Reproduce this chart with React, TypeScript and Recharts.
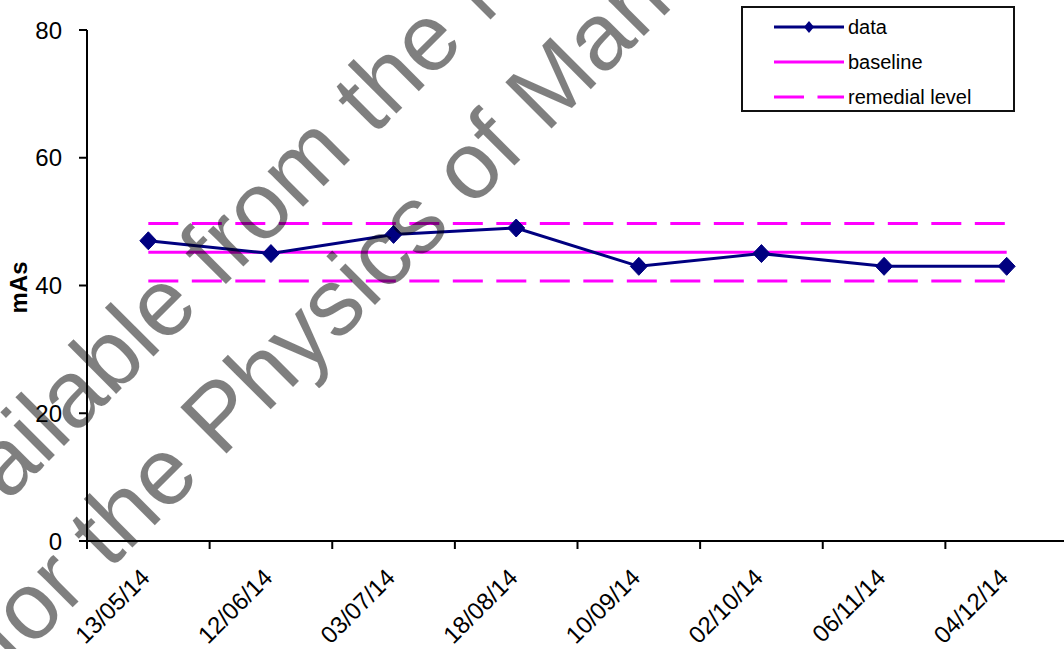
import React from 'react';
import { LineChart, Line, XAxis, YAxis } from 'recharts';

// Measurement dates (category axis)
const dates = ['13/05/14', '12/06/14', '03/07/14', '18/08/14', '10/09/14', '02/10/14', '06/11/14', '04/12/14'];
// Measured tube loading
const mAsValues = [47, 45, 48, 49, 43, 45, 43, 43];
// Baseline and ±10 % remedial levels
const baselineValues = [45.2, 45.2, 45.2, 45.2, 45.2, 45.2, 45.2, 45.2];
const remedialUpper = [49.7, 49.7, 49.7, 49.7, 49.7, 49.7, 49.7, 49.7];
const remedialLower = [40.7, 40.7, 40.7, 40.7, 40.7, 40.7, 40.7, 40.7];
const yTicks = [0, 20, 40, 60, 80];

const rows = dates.map((d, i) => ({
  date: d,
  data: mAsValues[i],
  baseline: baselineValues[i],
  remUp: remedialUpper[i],
  remLow: remedialLower[i],
}));

const FONT = '"Liberation Sans", Arial, Helvetica, sans-serif';
const NAVY = '#000080';
const MAGENTA = '#FF00FF';
const DASH = '30 13.5';

const Diamond = (props: any) => {
  const { cx, cy } = props;
  if (cx == null || cy == null) return null;
  return (
    <polygon
      points={`${cx},${cy - 9} ${cx + 8.5},${cy} ${cx},${cy + 9} ${cx - 8.5},${cy}`}
      fill={NAVY}
      stroke={NAVY}
      strokeWidth={1}
    />
  );
};

// Date label rotated 45°, with the tick mark drawn on the category boundary
const DateTick = (props: any) => {
  const { x, y, payload } = props;
  const half = payload && typeof payload.offset === 'number' ? payload.offset : 0;
  const ax = x + 3;
  const ay = y + 38;
  return (
    <g>
      <line x1={x - half} x2={x - half} y1={y} y2={y + 8} stroke="#000" strokeWidth={2} />
      <text
        x={ax}
        y={ay}
        textAnchor="end"
        fontFamily={FONT}
        fontSize={24}
        fill="#000"
        transform={`rotate(-45, ${ax}, ${ay})`}
      >
        {payload.value}
      </text>
    </g>
  );
};

const legendItems = [
  { label: 'data', kind: 'data' },
  { label: 'baseline', kind: 'solid' },
  { label: 'remedial level', kind: 'dashed' },
];

const LegendBox = () => (
  <div
    style={{
      position: 'absolute',
      left: 741,
      top: 6,
      width: 270,
      height: 101,
      border: '2px solid #111',
      background: '#fff',
      fontFamily: FONT,
      fontSize: 20,
      color: '#000',
      paddingTop: 1,
    }}
  >
    {legendItems.map((it) => (
      <div key={it.label} style={{ height: 35, display: 'flex', alignItems: 'center' }}>
        <svg width={72} height={20} style={{ marginLeft: 30, marginRight: 3 }}>
          {it.kind === 'data' && (
            <>
              <line x1={1} x2={71} y1={10} y2={10} stroke={NAVY} strokeWidth={3} />
              <polygon points="36,4 41,10 36,16 31,10" fill={NAVY} />
            </>
          )}
          {it.kind === 'solid' && <line x1={1} x2={71} y1={10} y2={10} stroke={MAGENTA} strokeWidth={3} />}
          {it.kind === 'dashed' && (
            <line x1={1} x2={71} y1={10} y2={10} stroke={MAGENTA} strokeWidth={3} strokeDasharray={DASH} />
          )}
        </svg>
        <span style={{ lineHeight: '20px', whiteSpace: 'nowrap' }}>{it.label}</span>
      </div>
    ))}
  </div>
);

const YTitle = (props: any) => {
  const vb = props.viewBox || {};
  const x = 18;
  const y = (vb.y || 0) + (vb.height || 0) / 2 + 2;
  return (
    <text
      x={x}
      y={y}
      textAnchor="middle"
      dominantBaseline="central"
      fontFamily={FONT}
      fontWeight="bold"
      fontSize={24}
      fill="#000"
      transform={`rotate(-90, ${x}, ${y})`}
    >
      mAs
    </text>
  );
};

export default function App() {
  return (
    <div style={{ position: 'absolute', left: 0, top: 0, width: 1064, height: 649, overflow: 'hidden', background: '#fff' }}>
      <LineChart width={1068} height={649} data={rows} margin={{ top: 30, right: 0, bottom: 0, left: 0 }}>
        <XAxis
          dataKey="date"
          scale="band"
          height={108}
          axisLine={{ stroke: '#000', strokeWidth: 2 }}
          tickLine={false}
          tickSize={0}
          tickMargin={0}
          interval={0}
          tick={<DateTick />}
        />
        <YAxis
          width={87}
          domain={[0, 80]}
          ticks={yTicks}
          allowDataOverflow
          axisLine={{ stroke: '#000', strokeWidth: 2 }}
          tickLine={{ stroke: '#000', strokeWidth: 2 }}
          tickSize={8}
          tickMargin={17}
          tick={{ fontFamily: FONT, fontSize: 24, fill: '#000' }}
          label={<YTitle />}
        />
        <Line dataKey="remUp" name="remedial level" stroke={MAGENTA} strokeWidth={3} strokeDasharray={DASH} dot={false} isAnimationActive={false} />
        <Line dataKey="remLow" name="remedial level" stroke={MAGENTA} strokeWidth={3} strokeDasharray={DASH} dot={false} isAnimationActive={false} />
        <Line dataKey="baseline" name="baseline" stroke={MAGENTA} strokeWidth={3} dot={false} isAnimationActive={false} />
        <Line dataKey="data" name="data" stroke={NAVY} strokeWidth={3} dot={<Diamond />} isAnimationActive={false} />
      </LineChart>
      <LegendBox />
      <svg
        width={1064}
        height={649}
        style={{ position: 'absolute', left: 0, top: 0, pointerEvents: 'none' }}
      >
        <g fontFamily={FONT} fontSize={95} fill="#000" fillOpacity={0.5}>
          <text x={0} y={0} transform="translate(-70, 580) rotate(-45)">
            Available from the National Co-ordinating Centre
          </text>
          <text x={0} y={0} transform="translate(12, 668) rotate(-45)">
            for the Physics of Mammography
          </text>
        </g>
      </svg>
    </div>
  );
}
